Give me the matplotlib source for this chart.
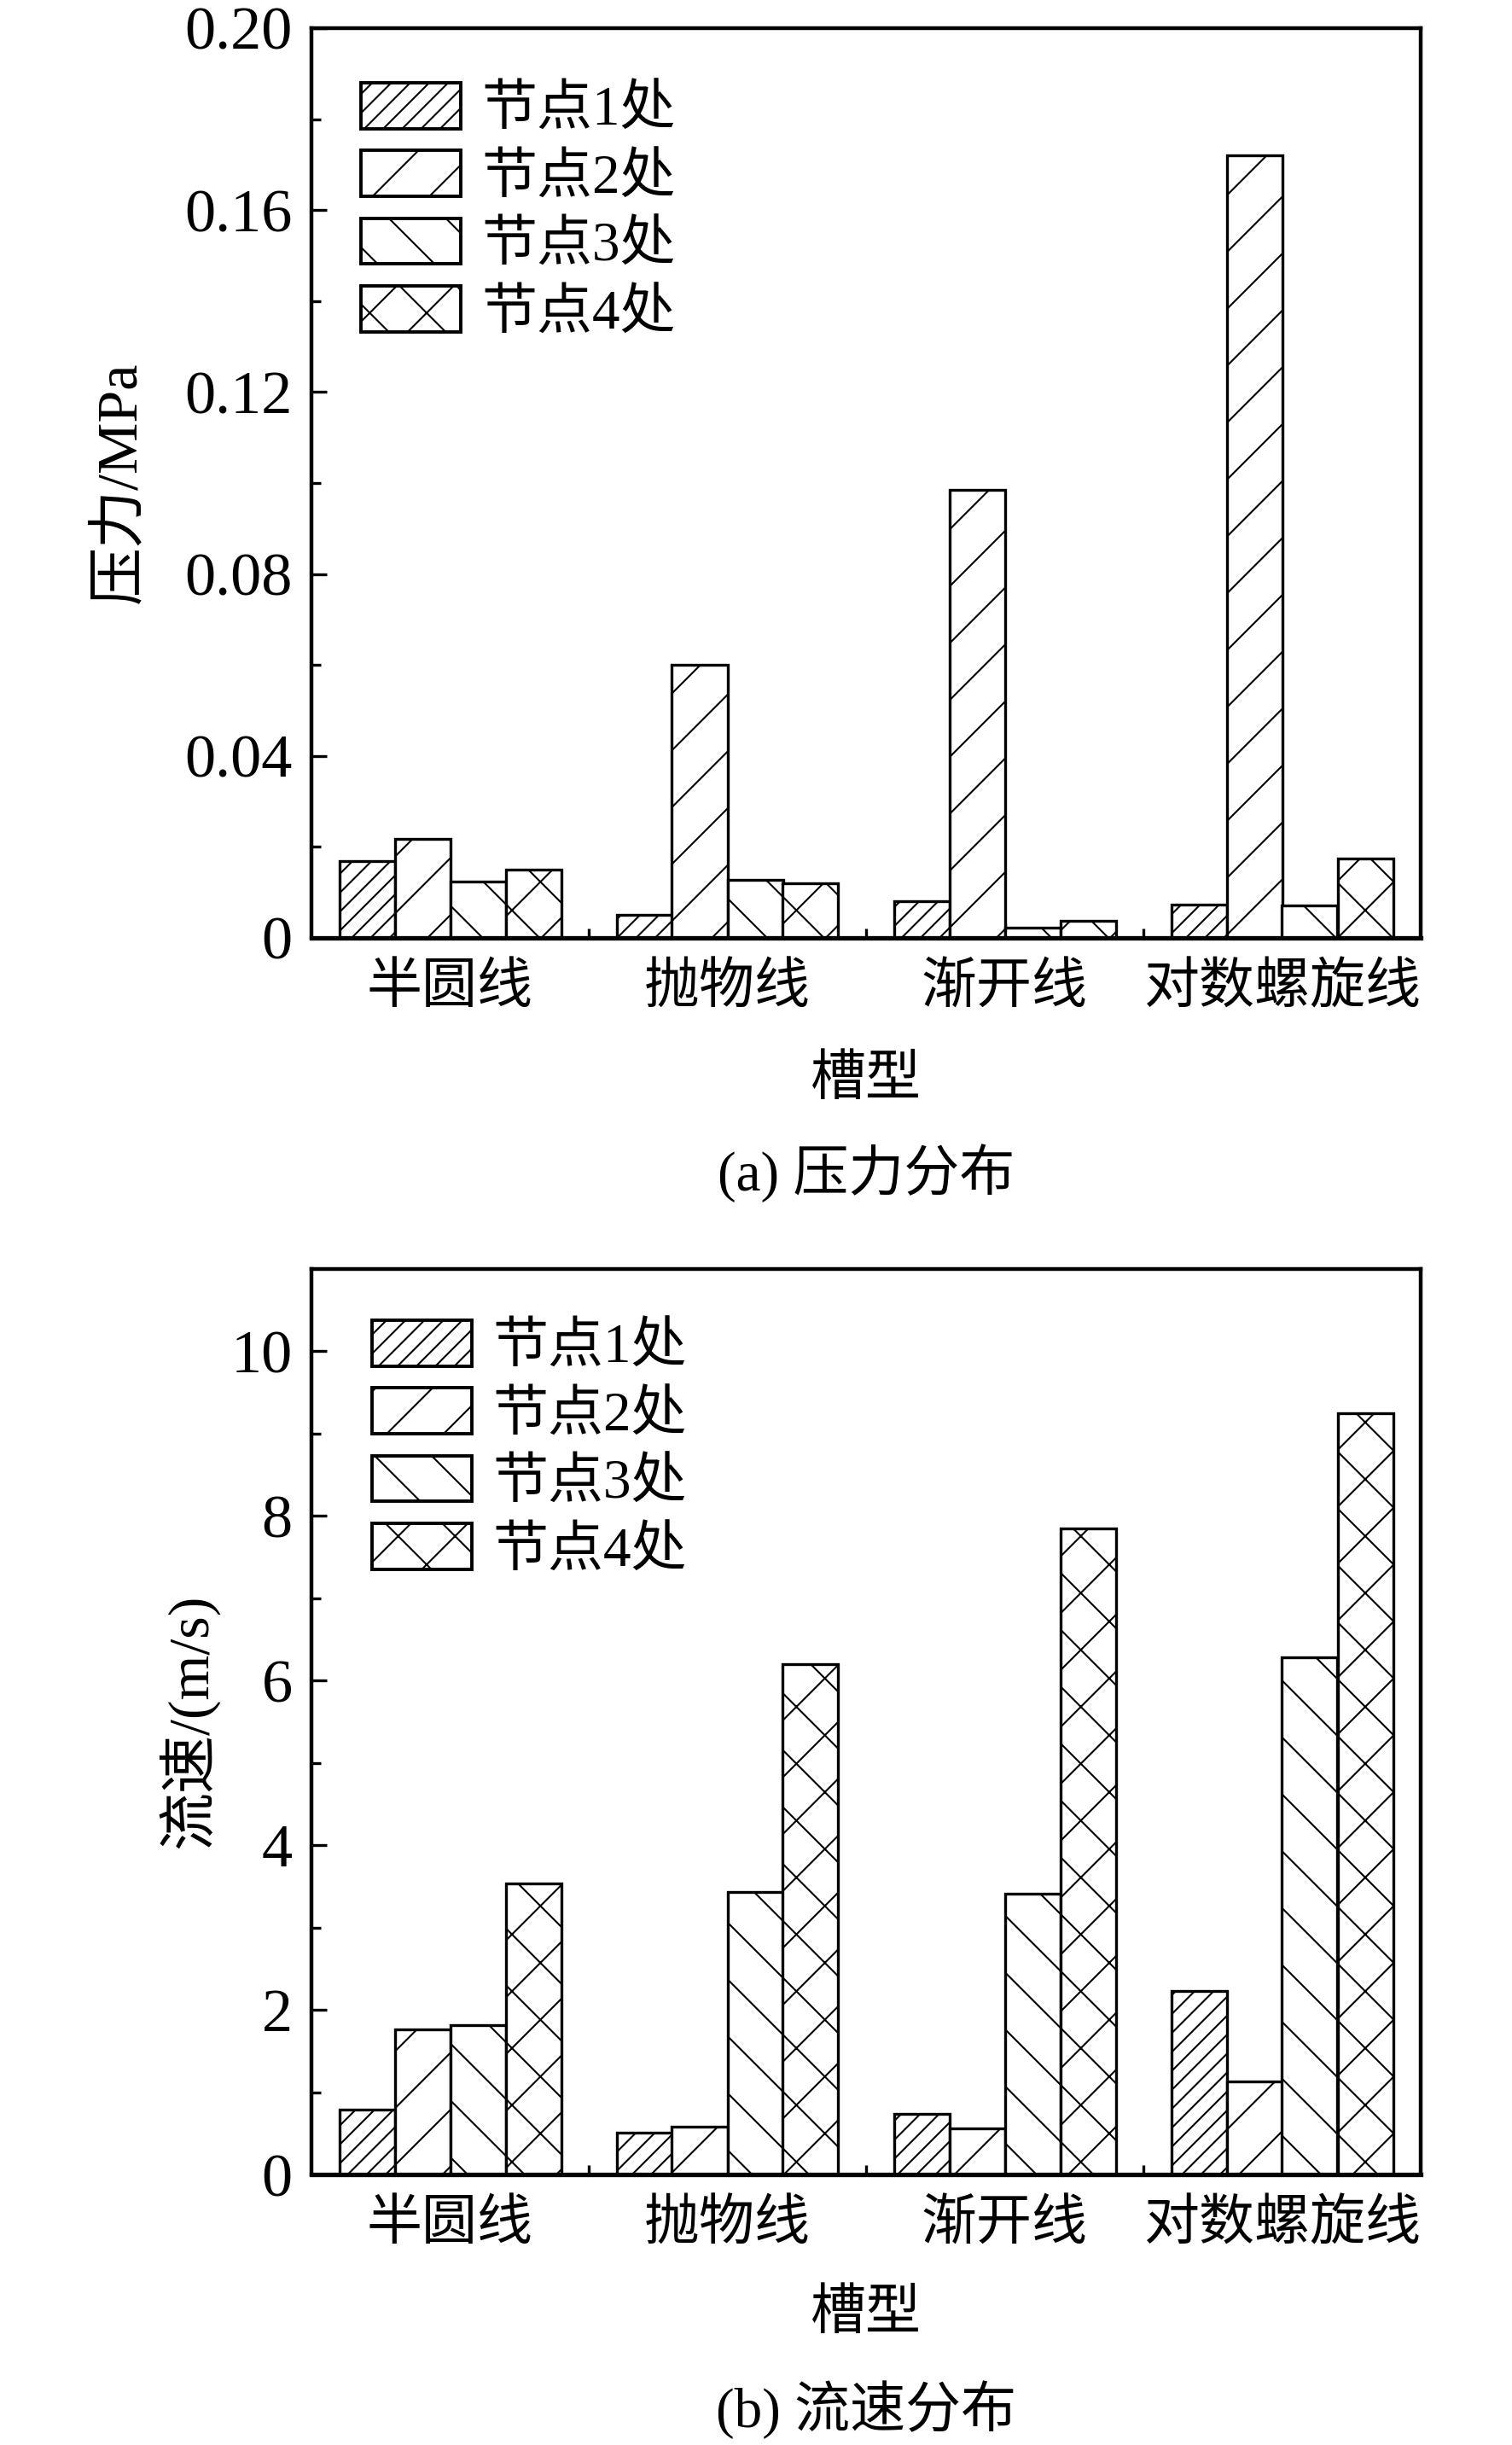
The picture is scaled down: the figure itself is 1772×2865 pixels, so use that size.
import matplotlib
matplotlib.use("Agg")
import matplotlib.pyplot as plt
import numpy as np

plt.rcParams['font.family'] = ['Liberation Serif', 'Noto Sans CJK SC']
plt.rcParams['hatch.linewidth'] = 0.75
plt.rcParams['axes.unicode_minus'] = False

categories = ['半圆线', '抛物线', '渐开线', '对数螺旋线']
series_names = ['节点1处', '节点2处', '节点3处', '节点4处']
hatches = ['///', '/', '\\', 'x']

pressure = [
    [0.0169, 0.0050, 0.0081, 0.0074],   # 节点1处
    [0.0218, 0.0600, 0.0985, 0.1720],   # 节点2处
    [0.0124, 0.0128, 0.0023, 0.0071],   # 节点3处
    [0.0150, 0.0121, 0.0038, 0.0175],   # 节点4处
]
velocity = [
    [0.79, 0.51, 0.735, 2.23],
    [1.76, 0.585, 0.56, 1.13],
    [1.81, 3.43, 3.41, 6.28],
    [3.54, 6.20, 7.85, 9.25],
]
p_ticks = [0, 0.04, 0.08, 0.12, 0.16, 0.20]
p_ticklabels = ['0', '0.04', '0.08', '0.12', '0.16', '0.20']
v_ticks = [0, 2, 4, 6, 8, 10]
v_ticklabels = ['0', '2', '4', '6', '8', '10']

W, H = 1772, 2865
DPI = 200
fig = plt.figure(figsize=(W / DPI, H / DPI), dpi=DPI)
FS = 23.4
FS_NUM = 26

def px_axes(left, top, right, bottom):
    return fig.add_axes([left / W, 1 - bottom / H, (right - left) / W, (bottom - top) / H])

def draw(ax, data, ylim, ticks, ticklabels, minor_step, legend_left, legend_top_px, ax_top, ax_bottom):
    x = np.arange(1, len(categories) + 1)
    width = 0.2
    offsets = [-0.3, -0.1, 0.1, 0.3]
    for i, (vals, name, h) in enumerate(zip(data, series_names, hatches)):
        ax.bar(x + offsets[i], vals, width, color='white', edgecolor='black',
               linewidth=1.2, hatch=h, label=name, zorder=2)
    ax.set_xlim(0.5, 4.5)
    ax.set_ylim(*ylim)
    ax.set_xticks(x)
    ax.set_xticklabels(categories, fontsize=FS)
    ax.set_xticks([1.5, 2.5, 3.5], minor=True)
    ax.set_yticks(ticks)
    ax.set_yticklabels(ticklabels, fontsize=FS_NUM)
    ax.set_yticks(np.arange(minor_step, ylim[1], minor_step * 2), minor=True)
    ax.tick_params(axis='both', which='major', direction='in', length=6.5, width=1.2, pad=8)
    ax.tick_params(axis='both', which='minor', direction='in', length=4, width=1.2)
    ax.tick_params(axis='x', which='major', pad=11)
    for s in ax.spines.values():
        s.set_linewidth(1.6)
    ax.spines['bottom'].set_linewidth(1.9)
    leg = ax.legend(loc='upper left', frameon=False, fontsize=FS,
                    handlelength=1.8, handleheight=0.89, handletextpad=0.38,
                    labelspacing=0.25, borderpad=0, borderaxespad=0,
                    bbox_to_anchor=((legend_left - 365) / 1300,
                                    1 - (legend_top_px - ax_top) / (ax_bottom - ax_top)))
    for p in leg.get_patches():
        p.set_linewidth(1.4)
    return ax

ax1 = px_axes(365, 33, 1665, 1099)
draw(ax1, pressure, (0, 0.20), p_ticks, p_ticklabels, 0.02, 423, 97, 33, 1099)
ax2 = px_axes(365, 1487, 1665, 2548)
draw(ax2, velocity, (0, 11), v_ticks, v_ticklabels, 1, 436, 1547, 1487, 2548)

cx = (365 + 1665) / 2 / W
fig.text(142 / W, 1 - 565 / H, '压力/MPa', rotation=90, ha='center', va='center', fontsize=24.5)
fig.text(220 / W, 1 - 2017 / H, '流速/(m/s)', rotation=90, ha='center', va='center', fontsize=24.5)
fig.text(cx, 1 - 1267 / H, '槽型', ha='center', va='center', fontsize=FS)
fig.text(cx, 1 - 2713 / H, '槽型', ha='center', va='center', fontsize=FS)
fig.text(cx, 1 - 1375 / H, '(a) 压力分布', ha='center', va='center', fontsize=FS)
fig.text(cx, 1 - 2824 / H, '(b) 流速分布', ha='center', va='center', fontsize=FS)

fig.savefig('out.png', dpi=DPI, facecolor='white')
